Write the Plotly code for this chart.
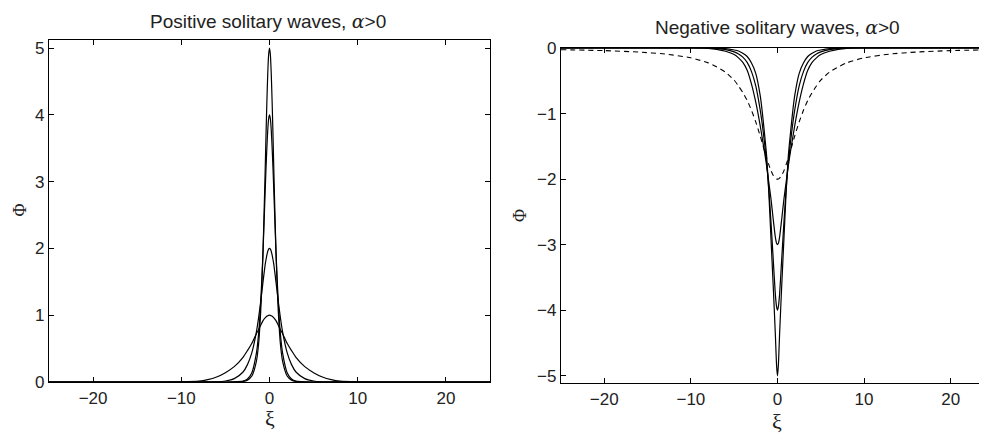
import plotly.graph_objects as go

# ---- left panel: positive solitary waves
xi_pos = [-25, -12, -10, -8, -7, -6, -5, -4, -3, -2.5, -2, -1.5, -1.25, -1, -0.75, -0.5,
          -0.4, -0.3, -0.2, -0.1, 0, 0.1, 0.2, 0.3, 0.4, 0.5, 0.75, 1, 1.25, 1.5, 2, 2.5,
          3, 4, 5, 6, 7, 8, 10, 12, 25]
phi_p1 = [0, 0, 0.002, 0.012, 0.035, 0.075, 0.14, 0.23, 0.37, 0.47, 0.58, 0.72, 0.78, 0.85, 0.915, 0.96,
          0.973, 0.985, 0.993, 0.998, 1.0, 0.998, 0.993, 0.985, 0.973, 0.96, 0.915, 0.85, 0.78, 0.72, 0.58, 0.47,
          0.37, 0.23, 0.14, 0.075, 0.035, 0.012, 0.002, 0, 0]
phi_p2 = [0, 0, 0, 0, 0.001, 0.004, 0.015, 0.05, 0.15, 0.26, 0.44, 0.74, 0.95, 1.2, 1.48, 1.75,
          1.83, 1.9, 1.955, 1.99, 2.0, 1.99, 1.955, 1.9, 1.83, 1.75, 1.48, 1.2, 0.95, 0.74, 0.44, 0.26,
          0.15, 0.05, 0.015, 0.004, 0.001, 0, 0, 0, 0]
phi_p4 = [0, 0, 0, 0, 0, 0, 0, 0.001, 0.012, 0.045, 0.14, 0.42, 0.7, 1.18, 1.9, 2.82,
          3.18, 3.5, 3.77, 3.94, 4.0, 3.94, 3.77, 3.5, 3.18, 2.82, 1.9, 1.18, 0.7, 0.42, 0.14, 0.045,
          0.012, 0.001, 0, 0, 0, 0, 0, 0, 0]
phi_p5 = [0, 0, 0, 0, 0, 0, 0, 0.001, 0.008, 0.028, 0.09, 0.3, 0.55, 1.05, 1.88, 3.12,
          3.67, 4.18, 4.61, 4.9, 5.0, 4.9, 4.61, 4.18, 3.67, 3.12, 1.88, 1.05, 0.55, 0.3, 0.09, 0.028,
          0.008, 0.001, 0, 0, 0, 0, 0, 0, 0]

# ---- right panel: negative solitary waves
xi_neg = [-25, -20, -16, -13, -10, -8, -7, -6, -5, -4.5, -4, -3.5, -3, -2.5, -2, -1.75, -1.5,
          -1.25, -1, -0.75, -0.5, -0.25, -0.1, 0, 0.1, 0.25, 0.5, 0.75, 1, 1.25, 1.5, 1.75, 2,
          2.5, 3, 3.5, 4, 4.5, 5, 6, 7, 8, 10, 13, 16, 20, 25]
phi_n2 = [-0.026, -0.04, -0.062, -0.092, -0.15, -0.227, -0.29, -0.37, -0.49, -0.58, -0.68, -0.8, -0.95,
          -1.13, -1.34, -1.45, -1.57, -1.68, -1.78, -1.87, -1.94, -1.985, -1.998, -2.0, -1.998, -1.985,
          -1.94, -1.87, -1.78, -1.68, -1.57, -1.45, -1.34, -1.13, -0.95, -0.8, -0.68, -0.58, -0.49,
          -0.37, -0.29, -0.227, -0.15, -0.092, -0.062, -0.04, -0.026]
phi_n3 = [0, 0, 0, 0, 0, -0.005, -0.02, -0.05, -0.1, -0.15, -0.22, -0.34, -0.55, -0.83, -1.18, -1.38,
          -1.58, -1.8, -2.05, -2.3, -2.6, -2.88, -2.98, -3.0, -2.98, -2.88, -2.6, -2.3, -2.05, -1.8,
          -1.58, -1.38, -1.18, -0.83, -0.55, -0.34, -0.22, -0.15, -0.1, -0.05, -0.02, -0.005, 0, 0, 0, 0, 0]
phi_n4 = [0, 0, 0, 0, 0, 0, -0.01, -0.025, -0.06, -0.09, -0.14, -0.22, -0.36, -0.58, -0.94, -1.17,
          -1.44, -1.75, -2.15, -2.65, -3.2, -3.75, -3.95, -4.0, -3.95, -3.75, -3.2, -2.65, -2.15, -1.75,
          -1.44, -1.17, -0.94, -0.58, -0.36, -0.22, -0.14, -0.09, -0.06, -0.025, -0.01, 0, 0, 0, 0, 0, 0]
phi_n5 = [0, 0, 0, 0, 0, 0, -0.005, -0.01, -0.03, -0.045, -0.08, -0.13, -0.23, -0.39, -0.72, -0.98,
          -1.3, -1.65, -2.2, -2.9, -3.6, -4.35, -4.85, -5.0, -4.85, -4.35, -3.6, -2.9, -2.2, -1.65,
          -1.3, -0.98, -0.72, -0.39, -0.23, -0.13, -0.08, -0.045, -0.03, -0.01, -0.005, 0, 0, 0, 0, 0, 0]

x_ticks = [-20, -10, 0, 10, 20]
y_ticks_pos = [0, 1, 2, 3, 4, 5]
y_ticks_neg = [-5, -4, -3, -2, -1, 0]

# the page body has an 8px margin, so the figure is sized to fit the rest of the window
OFF = 8
W, H = 987 - OFF, 434 - OFF
TXT = "#222222"
SANS = "Liberation Sans, Arial, sans-serif"
SERIF = "Liberation Serif, DejaVu Serif, serif"


def px(x):
    return (x - OFF) / W


def py(y):
    return 1 - (y - OFF) / H


fig = go.Figure()

solid = dict(color="black", width=1.2, shape="spline", smoothing=0.6)
for y in (phi_p1, phi_p2, phi_p4, phi_p5):
    fig.add_trace(go.Scatter(x=xi_pos, y=y, mode="lines", line=solid,
                             xaxis="x", yaxis="y", showlegend=False))

fig.add_trace(go.Scatter(x=xi_neg, y=phi_n2, mode="lines",
                         line=dict(color="black", width=1.1, dash="5px,4px", shape="spline", smoothing=0.6),
                         xaxis="x2", yaxis="y2", showlegend=False))
for y in (phi_n3, phi_n4, phi_n5):
    fig.add_trace(go.Scatter(x=xi_neg, y=y, mode="lines", line=solid,
                             xaxis="x2", yaxis="y2", showlegend=False))

axis_style = dict(
    showline=True, linecolor="black", linewidth=1.2, mirror="ticks",
    ticks="inside", ticklen=5, tickcolor="black", tickwidth=1,
    showgrid=False, zeroline=False,
    tickfont=dict(family=SANS, size=17, color=TXT),
)

fig.update_layout(
    width=W, height=H,
    margin=dict(l=0, r=0, t=0, b=0, autoexpand=False),
    paper_bgcolor="white", plot_bgcolor="white",
    xaxis=dict(domain=[px(49), px(490)], range=[-25, 25], tickvals=x_ticks,
               anchor="y", **axis_style),
    yaxis=dict(domain=[py(382), py(40)], range=[0, 5.12], tickvals=y_ticks_pos,
               anchor="x", **axis_style),
    xaxis2=dict(domain=[px(561), 1.0], range=[-25, 24.2], tickvals=x_ticks,
                anchor="y2", **axis_style),
    yaxis2=dict(domain=[py(383), py(48)], range=[-5.11, 0], tickvals=y_ticks_neg,
                anchor="x2", **axis_style),
)


def label(text, x, y, size, family, angle=0, xanchor="center"):
    fig.add_annotation(text=text, x=px(x), y=py(y), xref="paper", yref="paper",
                       showarrow=False, textangle=angle, xanchor=xanchor, yanchor="middle",
                       borderpad=0, font=dict(family=family, size=size, color=TXT))


ALPHA = "<span style=\"font-family:'DejaVu Serif';font-style:italic\">α</span>"
label("Positive solitary waves, " + ALPHA + "&gt;0", 268, 21, 19, SANS)
label("Negative solitary waves, " + ALPHA + "&gt;0", 777, 27, 19, SANS)
label("ξ", 270, 418, 22, SERIF)
label("ξ", 777, 421, 22, SERIF)
label("Φ", 8.5, 210, 18, SERIF, angle=-90, xanchor="left")
label("Φ", 520, 216, 18, SERIF, angle=-90)

fig.write_html("out.html")
